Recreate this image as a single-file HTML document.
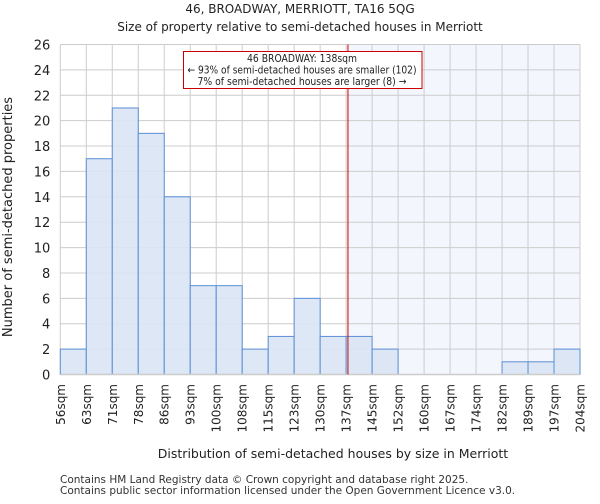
<!DOCTYPE html>
<html><head><meta charset="utf-8"><style>
body{margin:0;background:#fff;font-family:"DejaVu Sans","Liberation Sans",sans-serif;}
</style></head><body>
<svg width="600" height="500" xmlns="http://www.w3.org/2000/svg" font-family="DejaVu Sans, Liberation Sans, sans-serif">
<text x="300" y="13" text-anchor="middle" font-size="12" fill="#222">46, BROADWAY, MERRIOTT, TA16 5QG</text>
<text x="300" y="31" text-anchor="middle" font-size="12" fill="#222">Size of property relative to semi-detached houses in Merriott</text>
<g id="plot"></g>
<text x="333" y="458" text-anchor="middle" font-size="12.5" fill="#222">Distribution of semi-detached houses by size in Merriott</text>
<text transform="translate(12,217) rotate(-90)" text-anchor="middle" font-size="13" fill="#222">Number of semi-detached properties</text>
<text x="60" y="483" font-size="10.5" fill="#333">Contains HM Land Registry data © Crown copyright and database right 2025.</text>
<text x="60" y="494" font-size="10.5" fill="#333">Contains public sector information licensed under the Open Government Licence v3.0.</text>
</svg>
<script>
const binLabels=["56sqm","63sqm","71sqm","78sqm","86sqm","93sqm","100sqm","108sqm","115sqm","123sqm","130sqm","137sqm","145sqm","152sqm","160sqm","167sqm","174sqm","182sqm","189sqm","197sqm","204sqm"];
const counts=[2,17,21,19,14,7,7,2,3,6,3,3,2,0,0,0,0,1,1,2];
const yTicks=[0,2,4,6,8,10,12,14,16,18,20,22,24,26];
const markerBin=11.07;
const NS="http://www.w3.org/2000/svg";
const g=document.getElementById('plot');
const L=60.3,R=580,T=44.5,B=374.5,yMax=26;
const bw=(R-L)/counts.length;
const xs=i=>L+i*bw;
const ys=v=>B-(v/yMax)*(B-T);
function mk(t,a){const e=document.createElementNS(NS,t);for(const k in a)e.setAttribute(k,a[k]);g.appendChild(e);return e;}
let e;
const mx=xs(markerBin);
e=mk('rect',{x:mx,y:T,width:R-mx,height:B-T,fill:'#f3f6fd'});


yTicks.forEach(t=>{
  e=mk('line',{x1:L,x2:R,y1:ys(t),y2:ys(t),stroke:'#cccccc','stroke-width':1});
  
  
  e=mk('text',{x:L-10,y:ys(t)+5,'text-anchor':'end','font-size':13,fill:'#222'});e.textContent=t;
  
  
});
binLabels.forEach((lb,i)=>{
  e=mk('line',{x1:xs(i),x2:xs(i),y1:T,y2:B,stroke:'#cccccc','stroke-width':1});
  
  
  e=mk('text',{transform:`translate(${xs(i)+4.5},384) rotate(-90)`,'text-anchor':'end','font-size':12,fill:'#222'});e.textContent=lb;
  
  
});
counts.forEach((c,i)=>{
  if(c<=0)return;
  e=mk('rect',{x:xs(i),y:ys(c),width:bw,height:B-ys(c),fill:'#d9e4f4','fill-opacity':0.9,stroke:'#5b8fd6','stroke-width':1});
  
  
});
e=mk('line',{x1:L,x2:R,y1:B,y2:B,stroke:'#cccccc','stroke-width':1.5});


e=mk('line',{x1:mx,x2:mx,y1:T,y2:B,stroke:'#cc0000','stroke-width':1});


e=mk('rect',{x:183.5,y:51.5,width:238.5,height:37,fill:'#fff',stroke:'#cc0000','stroke-width':1});


const annLens=[110,229,209];
["46 BROADWAY: 138sqm","← 93% of semi-detached houses are smaller (102)","7% of semi-detached houses are larger (8) →"].forEach((s,k)=>{
  e=mk('text',{x:302,y:62+k*11.5,'text-anchor':'middle','font-size':10.5,fill:'#222',textLength:annLens[k],lengthAdjust:'spacingAndGlyphs'});e.textContent=s;
  
  
});
</script>
</body></html>
